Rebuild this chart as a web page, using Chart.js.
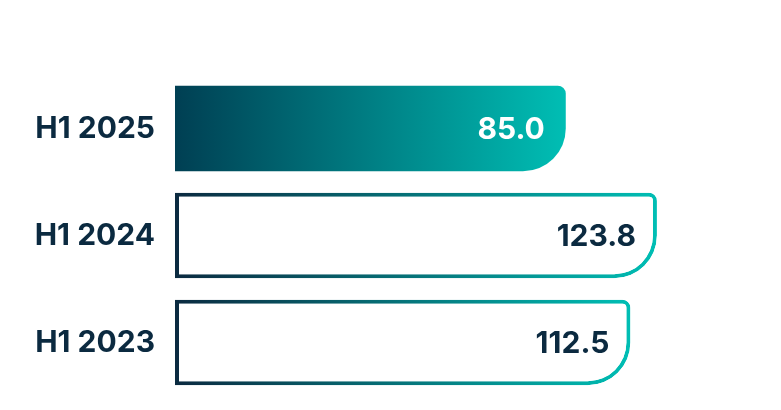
<!DOCTYPE html>
<html lang="en">
<head>
    <meta charset="UTF-8">
    <title>H1 comparison</title>
    <script src="https://cdn.jsdelivr.net/npm/chart.js"></script>
    <style>
        html, body {
            margin: 0;
            padding: 0;
            background: #fff;
        }

        #wrap {
            width: 781px;
            height: 410px;
        }
    </style>
</head>
<body>

    <div id="wrap">
        <canvas id="grafica" width="781" height="410"></canvas>
    </div>

<script>
        // Datos
        const periodos = ['H1 2025', 'H1 2024', 'H1 2023'];
        const valores = [85.0, 123.8, 112.5];

        const NAVY = '#0b2a40';
        const TEAL = '#00beb4';
        const DARK_TEAL = '#003f53';
        const BASE = -81.3;  // the bars do not start at zero in the original

        // gradient along one bar, from its start to its end
        function barGradient(context, from, to) {
            const chart = context.chart;
            if (!chart.chartArea || !chart.scales.x) return to;
            const xs = chart.scales.x;
            const x0 = xs.getPixelForValue(BASE);
            const x1 = xs.getPixelForValue(context.raw);
            const g = chart.ctx.createLinearGradient(x0, 0, x1, 0);
            g.addColorStop(0, from);
            g.addColorStop(1, to);
            return g;
        }

        // value labels at the end of the bars
        const etiquetas = {
            id: 'etiquetas',
            afterDatasetsDraw(chart) {
                const ctx = chart.ctx;
                const meta = chart.getDatasetMeta(0);
                ctx.save();
                ctx.font = '700 30px Inter';
                ctx.textAlign = 'right';
                ctx.textBaseline = 'middle';
                meta.data.forEach((bar, i) => {
                    ctx.fillStyle = i === 0 ? '#ffffff' : NAVY;
                    ctx.fillText(valores[i].toFixed(1), bar.x - 21, bar.y + 1);
                });
                ctx.restore();
            }
        };

        const ctx = document.getElementById('grafica').getContext('2d');
        const grafica = new Chart(ctx, {
            type: 'bar',
            data: {
                labels: periodos,
                datasets: [{
                    data: valores,
                    base: BASE,
                    backgroundColor: (c) => c.dataIndex === 0 ? barGradient(c, DARK_TEAL, TEAL) : '#ffffff',
                    borderColor: (c) => barGradient(c, NAVY, TEAL),
                    borderWidth: (c) => c.dataIndex === 0 ? 0 : 4,
                    borderSkipped: false,
                    borderRadius: { topLeft: 0, bottomLeft: 0, topRight: 8, bottomRight: 43 },
                    barPercentage: 0.8,
                    categoryPercentage: 1
                }]
            },
            options: {
                indexAxis: 'y',
                animation: false,
                responsive: false,
                layout: {
                    padding: { top: 75, bottom: 14, left: 0, right: 0 }
                },
                plugins: {
                    legend: { display: false },
                    tooltip: { enabled: false }
                },
                scales: {
                    x: {
                        display: false,
                        min: BASE,
                        max: 176.6
                    },
                    y: {
                        afterFit(scale) {
                            scale.width = 175;
                            // labels sit inside the bands, no extra room needed
                            scale.paddingTop = 0;
                            scale.paddingBottom = 0;
                        },
                        border: { display: false },
                        grid: { display: false, drawTicks: false },
                        ticks: {
                            padding: 20,
                            color: NAVY,
                            font: { family: 'Inter', size: 30, weight: '700' }
                        }
                    }
                }
            },
            plugins: [etiquetas]
        });
    </script>

</body>
</html>
